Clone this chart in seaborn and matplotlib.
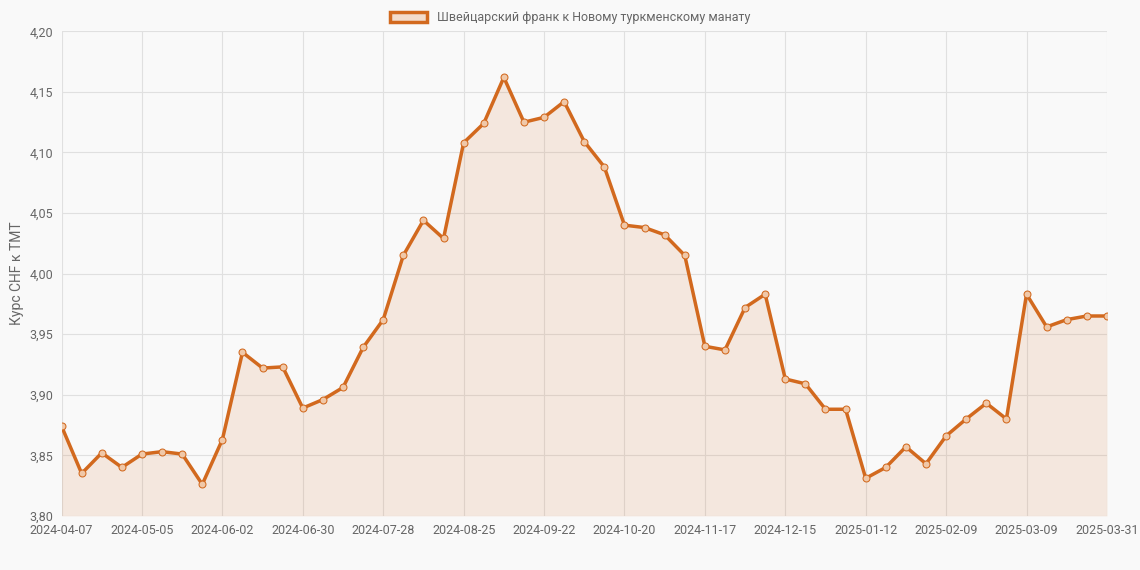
import matplotlib
matplotlib.use("Agg")
import matplotlib.pyplot as plt
import seaborn as sns
import pandas as pd
import numpy as np
from matplotlib.patches import Patch

dates = list(pd.date_range("2024-04-07", "2025-03-30", freq="7D").strftime("%Y-%m-%d")) + ["2025-03-31"]
values = [3.874, 3.835, 3.852, 3.840, 3.851, 3.853, 3.851, 3.826, 3.863, 3.935,
          3.922, 3.923, 3.889, 3.896, 3.906, 3.939, 3.962, 4.015, 4.044, 4.029,
          4.108, 4.124, 4.162, 4.125, 4.129, 4.142, 4.109, 4.088, 4.040, 4.038,
          4.032, 4.015, 3.940, 3.937, 3.972, 3.983, 3.913, 3.909, 3.888, 3.888,
          3.831, 3.840, 3.857, 3.843, 3.866, 3.880, 3.893, 3.880, 3.983, 3.956,
          3.962, 3.965, 3.965]
series_label = "Швейцарский франк к Новому туркменскому манату"
y_label = "Курс CHF к TMT"

sns.set_theme(style="whitegrid")
plt.rcParams['font.family'] = ['Roboto', 'DejaVu Sans']
color = "#D2691E"
bg = "#f9f9f9"

fig = plt.figure(figsize=(11.4, 5.7), dpi=100, facecolor=bg)
ax = fig.add_axes([0.054, 0.095, 0.917, 0.85], facecolor=bg)
df = pd.DataFrame({"i": np.arange(len(values)), "v": values})
sns.lineplot(data=df, x="i", y="v", ax=ax, color=color, linewidth=2.5,
             marker="o", markersize=5, markerfacecolor="#f0c8a8", markeredgecolor=color)
ax.fill_between(df["i"], df["v"], 3.80, color=color, alpha=0.12, linewidth=0)

ax.set_xlim(0, len(values) - 1)
ax.set_ylim(3.80, 4.20)
ticks = list(range(0, len(values) - 1, 4)) + [len(values) - 1]
ax.set_xticks(ticks)
ax.set_xticklabels([dates[t] for t in ticks], fontsize=9, color="#666666")
yt = np.arange(3.80, 4.2001, 0.05)
ax.set_yticks(yt)
ax.set_yticklabels([f"{v:.2f}".replace(".", ",") for v in yt], fontsize=9, color="#666666")
ax.set_xlabel("")
ax.set_ylabel(y_label, fontsize=10, color="#666666")
ax.grid(True, color="#e0e0e0", linewidth=0.8)
for s in ax.spines.values():
    s.set_visible(False)
ax.tick_params(length=0, pad=6)
fig.legend(handles=[Patch(facecolor="#f3dccb", edgecolor=color, linewidth=2.5, label=series_label)],
           loc="upper center", bbox_to_anchor=(0.5, 1.0), frameon=False, fontsize=9,
           labelcolor="#666666", handlelength=3, handleheight=0.9)
fig.savefig("out.png", dpi=100, facecolor=bg)
